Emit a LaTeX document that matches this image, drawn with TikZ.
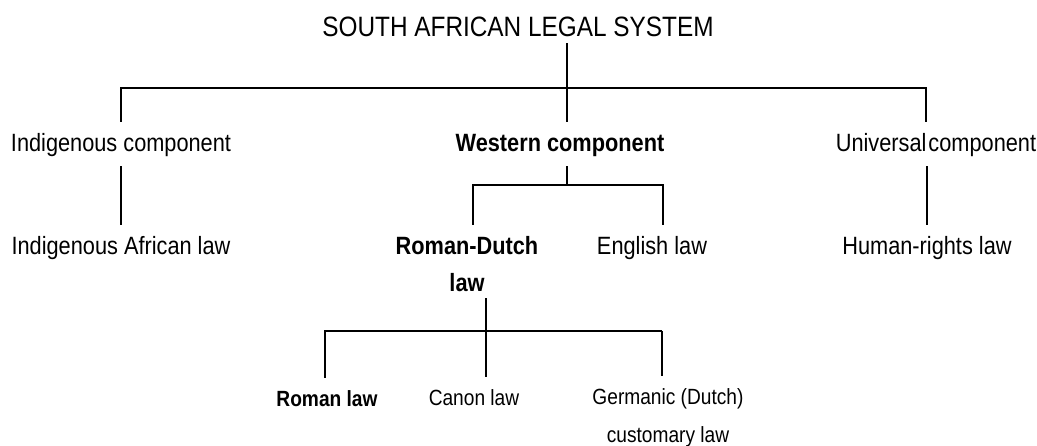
\documentclass[tikz,border=0pt]{standalone}
\usepackage{fontspec}
\setmainfont[FakeStretch=0.87]{Liberation Sans}

\tikzset{
  conn/.style={draw, line width=1.2pt},
  item/.style={inner sep=0pt, anchor=base, text height=30pt, text depth=14pt,
    font=\fontsize{25}{37}\selectfont},
  leaf/.style={inner sep=0pt, anchor=base, text height=29pt, text depth=6pt,
    font=\fontsize{22}{38}\selectfont},
}

\begin{document}
\begin{tikzpicture}[x=1pt, y=-1pt]

    \useasboundingbox (0,0) rectangle (1037,446);

    % Define nodes
    \node[inner sep=0pt, anchor=base, text depth=6pt,
          font=\fontsize{28}{34}\selectfont]   (title) at (518,37) {SOUTH AFRICAN LEGAL SYSTEM};

    \node[item]                (indig) at (121,152) {Indigenous component};
    \node[item, font=\fontsize{25}{37}\selectfont\bfseries]
                               (western) at (560,152) {Western component};
    \node[item]                (univ) at (936,152) {Universal\hspace{2pt}component};

    \node[item]                (iafr) at (121,255) {Indigenous African law};
    \node[item, text depth=43pt, font=\fontsize{25}{37}\selectfont\bfseries]
                               (rdutch) at (467,255) {\begin{tabular}[t]{@{}c@{}}Roman-Dutch\\law\end{tabular}};
    \node[item]                (english) at (652,255) {English law};
    \node[item]                (human) at (927,255) {Human-rights law};

    \node[leaf, font=\fontsize{22}{38}\selectfont\bfseries]
                               (roman) at (327,407) {Roman law};
    \node[leaf]                (canon) at (474,406) {Canon law};
    \node[leaf]                (germanic) at (668,405) {\begin{tabular}[t]{@{}c@{}}Germanic (Dutch)\\customary law\end{tabular}};

    % Junctions
    \coordinate (top) at (567,88);
    \coordinate (west) at (567,185);
    \coordinate (rd) at (486,331);
    \coordinate (gleg) at ([xshift=-6pt]germanic.north);

    % Connect the nodes
    \draw[conn] (top |- title.south) -- (top |- western.north);
    \draw[conn] (indig.north) |- (top) -| ([xshift=-10pt]univ.north);
    \draw[conn] (indig.south) -- (iafr.north);
    \draw[conn] (human.north |- univ.south) -- (human.north);

    \draw[conn] (west |- western.south) -- (west);
    \draw[conn] ([xshift=6pt]rdutch.north) |- (west) -| ([xshift=11pt]english.north);

    \draw[conn] (rd |- rdutch.south) -- (rd |- canon.north);
    \draw[conn] ([xshift=-2pt]roman.north) |- (rd) -- (rd -| gleg);
    \draw[conn, line width=2.2pt] (gleg |- rd) -- (gleg);

\end{tikzpicture}
\end{document}
